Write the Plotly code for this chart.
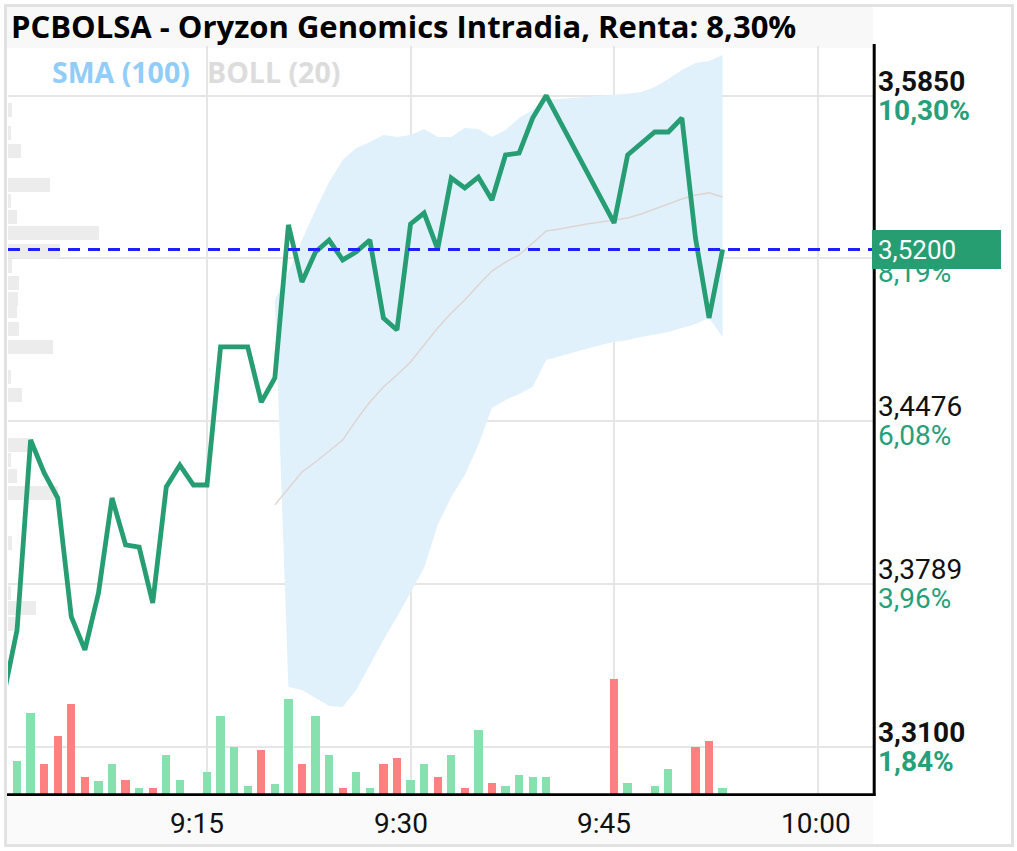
import plotly.graph_objects as go

DAY = "2024-01-02 "

# ---------------- data ----------------
title_text = "PCBOLSA - Oryzon Genomics Intradia, Renta: 8,30%"

price_times = ["09:00", "09:01", "09:02", "09:03", "09:04", "09:05", "09:06", "09:07",
               "09:08", "09:09", "09:10", "09:11", "09:12", "09:13", "09:14", "09:15",
               "09:16", "09:17", "09:18", "09:19", "09:20", "09:21", "09:22", "09:23",
               "09:24", "09:25", "09:26", "09:27", "09:28", "09:29", "09:30", "09:31",
               "09:32", "09:33", "09:34", "09:35", "09:36", "09:37", "09:38", "09:39",
               "09:40", "09:45", "09:46", "09:48", "09:49", "09:50", "09:51", "09:52",
               "09:53"]
price_values = [3.3315, 3.3594, 3.4396, 3.4257, 3.4151, 3.3649, 3.3510, 3.3750,
                3.4151, 3.3953, 3.3944, 3.3708, 3.4198, 3.4290, 3.4206, 3.4206,
                3.4789, 3.4789, 3.4789, 3.4556, 3.4658, 3.5304, 3.5063, 3.5190,
                3.5240, 3.5156, 3.5190, 3.5240, 3.4911, 3.4860, 3.5308, 3.5354,
                3.5202, 3.5502, 3.5460, 3.5506, 3.5409, 3.5599, 3.5607, 3.5755,
                3.5850, 3.5312, 3.5599, 3.5696, 3.5696, 3.5755, 3.5249, 3.4911,
                3.5200]

band_times = ["09:20", "09:21", "09:22", "09:23", "09:24", "09:25", "09:26", "09:27",
              "09:28", "09:29", "09:30", "09:31", "09:32", "09:33", "09:34", "09:35",
              "09:36", "09:37", "09:38", "09:39", "09:40", "09:41", "09:42", "09:43",
              "09:44", "09:45", "09:46", "09:47", "09:48", "09:49", "09:50", "09:51",
              "09:52", "09:53"]
boll_upper = [3.4987, 3.5105, 3.5240, 3.5367, 3.5485, 3.5578, 3.5629, 3.5654,
              3.5683, 3.5675, 3.5683, 3.5709, 3.5675, 3.5675, 3.5713, 3.5709,
              3.5675, 3.5705, 3.5755, 3.5789, 3.5831, 3.5835, 3.5840, 3.5844,
              3.5848, 3.5852, 3.5857, 3.5865, 3.5886, 3.5920, 3.5958, 3.5987,
              3.5996, 3.6021]
boll_lower = [3.4987, 3.3353, 3.3341, 3.3307, 3.3273, 3.3269, 3.3341, 3.3446,
              3.3552, 3.3649, 3.3754, 3.3856, 3.4037, 3.4155, 3.4248, 3.4375,
              3.4531, 3.4565, 3.4590, 3.4620, 3.4734, 3.4750, 3.4763, 3.4780,
              3.4797, 3.4810, 3.4818, 3.4831, 3.4843, 3.4852, 3.4869, 3.4886,
              3.4911, 3.4831]
sma_values = [3.4122, 3.4193, 3.4261, 3.4303, 3.4350, 3.4396, 3.4480, 3.4556,
              3.4620, 3.4670, 3.4725, 3.4797, 3.4869, 3.4932, 3.4987, 3.5050,
              3.5109, 3.5147, 3.5177, 3.5227, 3.5278, 3.5287, 3.5299, 3.5308,
              3.5316, 3.5325, 3.5333, 3.5350, 3.5371, 3.5392, 3.5413, 3.5430,
              3.5439, 3.5422]

vol_times = ["09:01", "09:02", "09:03", "09:04", "09:05", "09:06", "09:07", "09:08",
             "09:09", "09:10", "09:11", "09:12", "09:13", "09:15", "09:16", "09:17",
             "09:18", "09:19", "09:20", "09:21", "09:22", "09:23", "09:24", "09:25",
             "09:26", "09:27", "09:28", "09:29", "09:30", "09:31", "09:32", "09:33",
             "09:34", "09:35", "09:36", "09:37", "09:38", "09:39", "09:40", "09:45",
             "09:46", "09:48", "09:49", "09:51", "09:52", "09:53"]
vol_values = [3400, 8200, 3100, 5900, 9100, 1800, 1400, 3100,
              1500, 700, 700, 4000, 1500, 2300, 7900, 4800,
              900, 4500, 1100, 9600, 3100, 7900, 4000, 700,
              2300, 700, 3100, 3700, 1500, 3100, 1800, 4000,
              700, 6500, 1200, 900, 2000, 1800, 1800, 11600,
              1200, 900, 2600, 4800, 5400, 700]
vol_dir = ["up", "up", "down", "down", "down", "down", "up", "up",
           "down", "up", "down", "up", "up", "up", "up", "up",
           "up", "down", "up", "up", "down", "up", "up", "down",
           "up", "up", "down", "down", "up", "up", "down", "up",
           "down", "up", "down", "up", "up", "up", "up", "down",
           "up", "up", "up", "down", "down", "up"]

profile_prices = [3.5789, 3.5692, 3.5616, 3.5472, 3.5405, 3.5337, 3.5270, 3.5194,
                  3.5130, 3.5059, 3.4991, 3.4940, 3.4864, 3.4789, 3.4662, 3.4586,
                  3.4375, 3.4311, 3.4244, 3.4172, 3.3961, 3.3750, 3.3687, 3.3619]
profile_volumes = [35, 30, 125, 420, 30, 90, 910, 520,
                   35, 110, 100, 90, 110, 450, 30, 140,
                   230, 30, 90, 500, 40, 30, 280, 70]

y_ticks = [3.3100, 3.3789, 3.4476, 3.5163, 3.5850]
y_tick_labels = ["3,3100", "3,3789", "3,4476", "3,5163", "3,5850"]
pct_labels = ["1,84%", "3,96%", "6,08%", "8,19%", "10,30%"]
x_ticks = ["09:15", "09:30", "09:45", "10:00"]
x_tick_labels = ["9:15", "9:30", "9:45", "10:00"]
last_price = 3.52
last_price_label = "3,5200"

# ---------------- styles / geometry ----------------
W, H = 1017, 851
PL, PR, PT, PB = 8, 873, 46, 795       # plot area in pixels
PX_PER_PRICE = 2369.0
GREEN = "#279d73"
PCT_GREEN = "#26a07a"
UP_COL = "#86e1ae"
DOWN_COL = "#fe8080"
GRID = "#e6e6e6"


def px_x(px):
    return (px - PL) / (PR - PL)


def px_y(py):
    return (PB - py) / (PB - PT)


def T(s):
    return DAY + s + ":00"


fig = go.Figure()

# volume profile (main subplot so it sits below everything)
fig.add_trace(go.Bar(
    x=profile_volumes, y=profile_prices, orientation="h",
    xaxis="x", yaxis="y", width=0.0058,
    marker=dict(color="#ececec", line=dict(width=0)),
    hoverinfo="skip", showlegend=False))

# bollinger band
fig.add_trace(go.Scatter(
    x=[T(t) for t in band_times], y=boll_upper, xaxis="x2", yaxis="y",
    mode="lines", line=dict(width=0, color="rgba(0,0,0,0)"),
    hoverinfo="skip", showlegend=False))
fig.add_trace(go.Scatter(
    x=[T(t) for t in band_times], y=boll_lower, xaxis="x2", yaxis="y",
    mode="lines", line=dict(width=0, color="rgba(0,0,0,0)"),
    fill="tonexty", fillcolor="#e1f1fc",
    hoverinfo="skip", showlegend=False))
# SMA
fig.add_trace(go.Scatter(
    x=[T(t) for t in band_times], y=sma_values, xaxis="x2", yaxis="y",
    mode="lines", line=dict(width=1.5, color="#ddd5d2"),
    hoverinfo="skip", showlegend=False))

# volume bars
fig.add_trace(go.Bar(
    x=[T(t) for t in vol_times], y=vol_values, xaxis="x2", yaxis="y2",
    width=36700,
    marker=dict(color=[UP_COL if d == "up" else DOWN_COL for d in vol_dir],
                line=dict(width=0)),
    hoverinfo="skip", showlegend=False))

# price line
fig.add_trace(go.Scatter(
    x=[T(t) for t in price_times], y=price_values, xaxis="x2", yaxis="y",
    mode="lines", line=dict(width=4.8, color=GREEN),
    hoverinfo="skip", showlegend=False))

y_lo = 3.31 - (PB - 747) / PX_PER_PRICE
y_hi = 3.31 + (747 - PT) / PX_PER_PRICE

shapes = []
# outer frame
shapes.append(dict(type="rect", xref="paper", yref="paper",
                   x0=px_x(5.5), x1=px_x(1012.5), y0=px_y(845.5), y1=px_y(5.5),
                   line=dict(color="#e2e2e2", width=3), fillcolor="rgba(0,0,0,0)",
                   layer="below"))
# title band
shapes.append(dict(type="rect", xref="paper", yref="paper",
                   x0=px_x(7), x1=px_x(873), y0=px_y(48), y1=px_y(7),
                   line=dict(width=0), fillcolor="#f8f8f8", layer="below"))
# bottom strip
shapes.append(dict(type="rect", xref="paper", yref="paper",
                   x0=px_x(7), x1=px_x(873), y0=px_y(844), y1=px_y(796),
                   line=dict(width=0), fillcolor="#fafafa", layer="below"))
# last price dashed line
shapes.append(dict(type="line", xref="paper", yref="y",
                   x0=0, x1=1, y0=last_price, y1=last_price,
                   line=dict(color="#2020f8", width=3, dash="12px,8px"),
                   layer="above"))
# axis lines
shapes.append(dict(type="line", xref="paper", yref="paper",
                   x0=px_x(874.2), x1=px_x(874.2), y0=px_y(44), y1=px_y(796),
                   line=dict(color="#000000", width=3), layer="above"))
shapes.append(dict(type="line", xref="paper", yref="paper",
                   x0=px_x(7), x1=px_x(875.5), y0=px_y(794.7), y1=px_y(794.7),
                   line=dict(color="#000000", width=2.7), layer="above"))

annotations = []
annotations.append(dict(text="<b>" + title_text + "</b>", xref="paper", yref="paper",
                        x=px_x(9), y=px_y(26.5), xanchor="left", yanchor="middle",
                        showarrow=False,
                        font=dict(family="Open Sans", size=31, color="#000000")))
annotations.append(dict(text="<b>SMA (100)</b>", xref="paper", yref="paper",
                        x=px_x(50), y=px_y(72), xanchor="left", yanchor="middle",
                        showarrow=False,
                        font=dict(family="Open Sans", size=28.5, color="#90cdf8")))
annotations.append(dict(text="<b>BOLL (20)</b>", xref="paper", yref="paper",
                        x=px_x(205), y=px_y(72), xanchor="left", yanchor="middle",
                        showarrow=False,
                        font=dict(family="Open Sans", size=28.5, color="#dcdcdc")))

for i, (v, lab, pct) in enumerate(zip(y_ticks, y_tick_labels, pct_labels)):
    bold = (i == 0 or i == len(y_ticks) - 1)
    if lab != "3,5163":
        annotations.append(dict(
            text=("<b>%s</b>" % lab) if bold else lab, xref="paper", yref="y",
            x=1, y=v, xanchor="left", yanchor="middle", xshift=3, yshift=14.5,
            showarrow=False, font=dict(family="Roboto", size=28, color="#111111")))
    annotations.append(dict(
        text=("<b>%s</b>" % pct) if bold else pct, xref="paper", yref="y",
        x=1, y=v, xanchor="left", yanchor="middle", xshift=3, yshift=-14.5,
        showarrow=False, font=dict(family="Roboto", size=28, color=PCT_GREEN)))

# last price box (shape) + label
half_box = 19.5 / PX_PER_PRICE
shapes.append(dict(type="rect", xref="paper", yref="y",
                   x0=px_x(872), x1=px_x(1001),
                   y0=last_price - half_box, y1=last_price + half_box,
                   line=dict(width=0), fillcolor="#279e72", layer="above"))
annotations.append(dict(
    text=last_price_label, xref="paper", yref="y", x=1, y=last_price,
    xanchor="left", yanchor="middle", xshift=3, showarrow=False,
    font=dict(family="Roboto", size=26, color="#ffffff")))

for t, lab in zip(x_ticks, x_tick_labels):
    annotations.append(dict(
        text=lab, xref="x2", yref="paper", x=T(t), y=px_y(823),
        xanchor="left", yanchor="middle", xshift=-39, showarrow=False,
        font=dict(family="Roboto", size=28, color="#111111")))

fig.update_layout(
    width=W, height=H,
    margin=dict(l=PL, r=W - PR, t=PT, b=H - PB, pad=0),
    paper_bgcolor="#ffffff", plot_bgcolor="rgba(0,0,0,0)",
    showlegend=False, bargap=0,
    xaxis=dict(range=[0, 8650], visible=False, fixedrange=True),
    xaxis2=dict(overlaying="x", type="date",
                range=[DAY + "09:00:20", DAY + "10:04:05"],
                tickvals=[T(t) for t in x_ticks], showticklabels=False,
                showgrid=True, gridcolor=GRID, gridwidth=2, zeroline=False,
                showline=False, ticks=""),
    yaxis=dict(range=[y_lo, y_hi], tickvals=y_ticks, showticklabels=False,
               showgrid=True, gridcolor=GRID, gridwidth=2, zeroline=False,
               showline=False, ticks=""),
    yaxis2=dict(overlaying="y", range=[0, (PB - PT) * 100], visible=False,
                showgrid=False, zeroline=False),
    shapes=shapes, annotations=annotations,
)

fig.write_html("out.html")
